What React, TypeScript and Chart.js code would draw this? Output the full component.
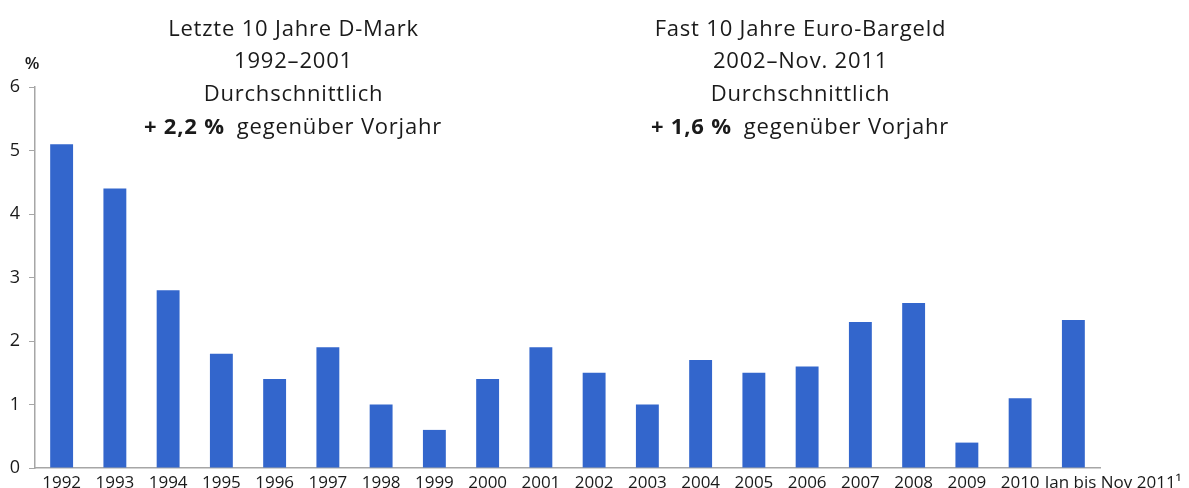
import React, { useEffect, useRef } from "react";
import { Chart, registerables } from "chart.js";

Chart.register(...registerables);

const categories = [
  "1992", "1993", "1994", "1995", "1996", "1997", "1998", "1999", "2000", "2001",
  "2002", "2003", "2004", "2005", "2006", "2007", "2008", "2009", "2010", "Jan bis Nov 2011¹",
];
const values = [5.1, 4.4, 2.8, 1.8, 1.4, 1.9, 1.0, 0.6, 1.4, 1.9, 1.5, 1.0, 1.7, 1.5, 1.6, 2.3, 2.6, 0.4, 1.1, 2.33];
const yTicks = [0, 1, 2, 3, 4, 5, 6];
const unitLabel = "%";
const leftNote = ["Letzte 10 Jahre D-Mark", "1992–2001", "Durchschnittlich"];
const leftNoteBold = "+ 2,2 %";
const rightNote = ["Fast 10 Jahre Euro-Bargeld", "2002–Nov. 2011", "Durchschnittlich"];
const rightNoteBold = "+ 1,6 %";
const noteTail = "gegenüber Vorjahr";

const FONT = "'Open Sans', 'Noto Sans', sans-serif";
const TEXT = "#1a1a1a";
const AXIS = "#a6a6a6";

const notesPlugin = {
  id: "notes",
  afterDraw(chart: any) {
    const ctx = chart.ctx;
    ctx.save();
    ctx.fillStyle = TEXT;
    ctx.textBaseline = "alphabetic";
    ctx.font = `600 17px ${FONT}`;
    ctx.textAlign = "center";
    ctx.fillText(unitLabel, 32, 69);

    const drawBlock = (lines: string[], bold: string, cx: number) => {
      const size = 22;
      const baselines = [36, 68, 101, 134];
      (ctx as any).letterSpacing = "0.8px";
      ctx.textAlign = "center";
      ctx.font = `${size}px ${FONT}`;
      lines.forEach((l, i) => ctx.fillText(l, cx + 0.5, baselines[i]));
      ctx.font = `bold ${size}px ${FONT}`;
      const wb = ctx.measureText(bold).width;
      ctx.font = `${size}px ${FONT}`;
      const gap = 12;
      const wt = ctx.measureText(noteTail).width;
      const start = cx - (wb + gap + wt) / 2;
      ctx.textAlign = "left";
      ctx.font = `bold ${size}px ${FONT}`;
      ctx.fillText(bold, start, baselines[3]);
      ctx.font = `${size}px ${FONT}`;
      ctx.fillText(noteTail, start + wb + gap, baselines[3]);
      (ctx as any).letterSpacing = "0px";
    };
    drawBlock(leftNote, leftNoteBold, 293);
    drawBlock(rightNote, rightNoteBold, 800);
    ctx.restore();
  },
};

export default function App() {
  const ref = useRef<HTMLCanvasElement | null>(null);
  useEffect(() => {
    if (!ref.current) return;
    const chart = new Chart(ref.current, {
      type: "bar",
      data: {
        labels: categories,
        datasets: [
          {
            data: values,
            backgroundColor: "#3366cc",
            barPercentage: 0.43,
            categoryPercentage: 1,
          },
        ],
      },
      plugins: [notesPlugin],
      options: {
        animation: false,
        responsive: false,
        maintainAspectRatio: false,
        layout: { padding: { top: 87, right: 89, left: 0, bottom: 0 } },
        plugins: { legend: { display: false }, tooltip: { enabled: false } },
        scales: {
          x: {
            grid: { display: false, drawTicks: false },
            border: { display: true, color: AXIS, width: 1.5 },
            ticks: {
              color: TEXT,
              font: { family: FONT, size: 17 },
              maxRotation: 0,
              minRotation: 0,
              autoSkip: false,
              padding: 5,
              callback: (_v: any, i: number) =>
                i === categories.length - 1 ? "                  " + categories[i] : categories[i],
            },
            afterFit: (s: any) => {
              s.height = 20;
            },
          },
          y: {
            min: 0,
            max: 6,
            afterBuildTicks: (s: any) => {
              s.ticks = yTicks.map((v) => ({ value: v }));
            },
            grid: { display: true, drawOnChartArea: false, drawTicks: true, tickLength: 6, color: AXIS },
            border: { display: true, color: AXIS, width: 1.5 },
            ticks: {
              color: TEXT,
              font: { family: FONT, size: 18 },
              padding: 9,
            },
            afterFit: (s: any) => {
              s.width = 35;
            },
          },
        },
      },
    } as any);
    return () => chart.destroy();
  }, []);
  return (
    <div style={{ position: "fixed", left: 0, top: 0, width: 1189, height: 488, background: "#fff" }}>
      <canvas ref={ref} width={1189} height={488} style={{ display: "block" }} />
    </div>
  );
}
